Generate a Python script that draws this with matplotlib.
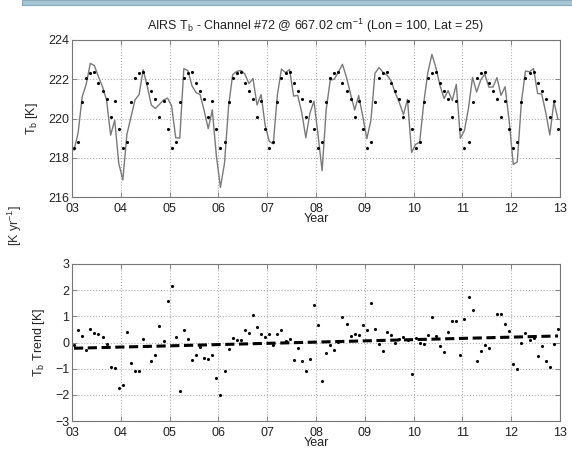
import numpy as np
import matplotlib
matplotlib.use('Agg')
import matplotlib.pyplot as plt
from matplotlib.patches import Rectangle

plt.rcParams['font.family'] = ['Liberation Sans', 'DejaVu Sans']
plt.rcParams['mathtext.fontset'] = 'custom'
plt.rcParams['mathtext.rm'] = 'Liberation Sans'
plt.rcParams['mathtext.it'] = 'Liberation Sans'

# monthly AIRS brightness temperature, 2003-2012 [K]
tb_2003 = [218.39, 219.26, 221.10, 221.75, 222.81, 222.70, 222.13, 221.62, 220.95, 219.15, 219.91, 217.72]
tb_2004 = [216.87, 219.19, 220.07, 220.95, 221.22, 222.48, 221.65, 220.69, 220.51, 220.72, 220.94, 221.04]
tb_2005 = [220.65, 219.02, 219.00, 222.54, 222.44, 221.67, 221.32, 221.22, 220.40, 219.48, 220.44, 218.10]
tb_2006 = [216.49, 217.72, 220.61, 222.23, 222.40, 222.45, 222.27, 221.78, 222.04, 220.69, 221.22, 219.65]
tb_2007 = [218.84, 218.71, 221.19, 222.52, 222.34, 222.49, 221.14, 221.18, 220.30, 219.02, 220.27, 220.88]
tb_2008 = [219.17, 217.34, 220.44, 221.95, 222.01, 222.36, 222.76, 222.10, 221.25, 220.43, 221.17, 220.11]
tb_2009 = [218.97, 219.90, 222.30, 222.60, 222.35, 222.20, 221.90, 221.30, 220.80, 220.20, 220.97, 218.27]
tb_2010 = [218.68, 218.80, 220.81, 222.34, 223.27, 222.58, 221.67, 221.02, 221.42, 220.91, 221.74, 218.99]
tb_2011 = [219.39, 220.53, 222.10, 221.35, 221.96, 222.27, 221.60, 221.60, 222.08, 221.18, 221.62, 219.89]
tb_2012 = [217.66, 217.79, 220.82, 222.42, 222.38, 222.54, 221.27, 221.25, 220.30, 219.16, 220.85, 219.96]

# seasonal fit (dots), same every year
fit_year = [218.50, 218.80, 220.85, 222.05, 222.30, 222.35, 221.80, 221.40, 221.00, 220.10, 220.90, 219.45]

# anomalies [K]
an_2003 = [-0.11, 0.46, 0.25, -0.30, 0.51, 0.35, 0.33, 0.22, -0.05, -0.95, -0.99, -1.73]
an_2004 = [-1.63, 0.39, -0.78, -1.10, -1.08, 0.13, -0.15, -0.71, -0.49, 0.62, 0.04, 1.59]
an_2005 = [2.15, 0.22, -1.85, 0.49, 0.14, -0.68, -0.48, -0.18, -0.60, -0.62, -0.46, -1.35]
an_2006 = [-2.01, -1.08, -0.24, 0.18, 0.10, 0.10, 0.47, 0.38, 1.04, 0.59, 0.32, 0.20]
an_2007 = [0.34, -0.09, 0.34, 0.47, 0.04, 0.14, -0.66, -0.22, -0.70, -1.08, -0.63, 1.43]
an_2008 = [0.67, -1.46, -0.41, -0.10, -0.29, 0.01, 0.96, 0.70, 0.25, 0.33, 0.27, 0.66]
an_2009 = [0.46, 1.52, 0.53, -0.05, -0.34, 0.42, 0.27, -0.03, 0.13, 0.20, 0.10, -1.19]
an_2010 = [0.18, 0.00, -0.04, 0.29, 0.97, 0.23, -0.13, -0.38, 0.42, 0.81, 0.84, -0.46]
an_2011 = [0.89, 1.73, 1.25, -0.70, -0.34, -0.08, -0.20, 0.20, 1.08, 1.08, 0.72, 0.44]
an_2012 = [-0.84, -1.01, -0.03, 0.37, 0.08, 0.19, -0.53, -0.15, -0.70, -0.94, -0.05, 0.51]

trend_ends = [-0.22, 0.25]

year_ticks = list(range(2003, 2014))
year_labels = ['03', '04', '05', '06', '07', '08', '09', '10', '11', '12', '13']

tb = tb_2003 + tb_2004 + tb_2005 + tb_2006 + tb_2007 + tb_2008 + tb_2009 + tb_2010 + tb_2011 + tb_2012
fit = fit_year * 10
anom = an_2003 + an_2004 + an_2005 + an_2006 + an_2007 + an_2008 + an_2009 + an_2010 + an_2011 + an_2012
t = 2003 + (np.arange(len(tb)) + 0.5) / 12.0

fig = plt.figure(figsize=(5.72, 4.71), dpi=100)

# bits of the surrounding page that show in the screenshot
fig.patches.append(Rectangle((22 / 572, 1 - 4.5 / 471), 1, 4.5 / 471, transform=fig.transFigure,
                             facecolor='#a5c6d5', edgecolor='#8aa9b8', lw=0.8))
fig.text(15 / 572, 1 - 226 / 471, '[K yr$^{-1}$]', rotation=90, ha='center', va='center',
         fontsize=9, color='#333333')

frame = '#777777'


def style(ax):
    ax.set_xlim(2003, 2013)
    ax.set_xticks(year_ticks)
    ax.set_xticklabels(year_labels)
    ax.tick_params(direction='in', top=True, right=True, length=3.5, width=0.6,
                   color=frame, labelsize=9, labelcolor='#222222')
    ax.tick_params(axis='x', pad=4)
    ax.tick_params(axis='y', pad=2)
    ax.grid(True, linestyle=':', color='#b0b0b0', linewidth=0.8)
    for s in ax.spines.values():
        s.set_color(frame)
        s.set_linewidth(0.8)
    ax.set_xlabel('Year', fontsize=9, labelpad=-1, color='#222222')


ax1 = fig.add_axes([72 / 572, 1 - 197 / 471, 488 / 572, 157 / 471])
ax1.plot(t, tb, color='#7a7a7a', lw=1.0)
ax1.plot(t, fit, '.', color='black', ms=2.5)
ax1.set_ylim(216, 224)
ax1.set_yticks([216, 218, 220, 222, 224])
style(ax1)
ax1.set_ylabel('T$_\\mathregular{b}$ [K]', fontsize=9, color='#222222', labelpad=6)
ax1.set_title('AIRS T$_\\mathregular{b}$ - Channel #72 @ 667.02 cm$^{-1}$ (Lon = 100, Lat = 25)',
              fontsize=9, color='#222222', pad=7)

ax2 = fig.add_axes([72 / 572, 1 - 421 / 471, 488 / 572, 157 / 471])
ax2.plot(t, anom, '.', color='black', ms=2.5)
ax2.plot([t[0], t[-1]], trend_ends, '--', color='black', lw=2.2, dashes=(3, 1.5))
ax2.set_ylim(-3, 3)
ax2.set_yticks([-3, -2, -1, 0, 1, 2, 3])
style(ax2)
ax2.set_ylabel('T$_\\mathregular{b}$ Trend [K]', fontsize=9, color='#222222', labelpad=6)

fig.savefig('out.png', dpi=100)
